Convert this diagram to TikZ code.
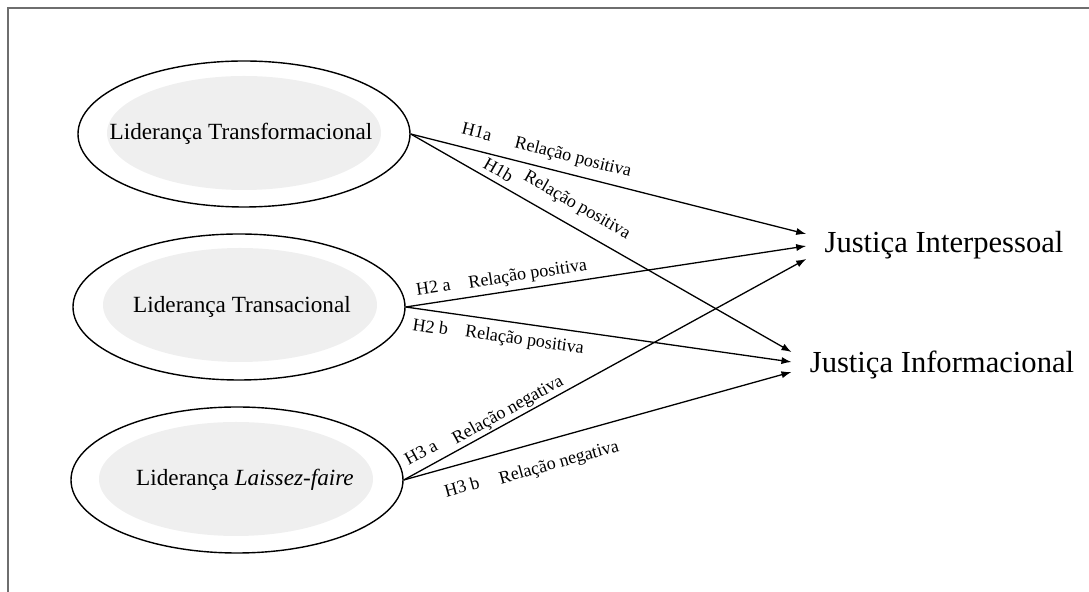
\documentclass[tikz,border=0pt]{standalone}
\usepackage{fontspec}
\setmainfont{Liberation Serif}
\usetikzlibrary{shapes.geometric,arrows.meta}
\definecolor{innergray}{HTML}{EFEFEF}
\definecolor{framegray}{HTML}{6E6E6E}
\begin{document}
\begin{tikzpicture}[x=0.5pt,y=-0.5pt,
  outer/.style={draw, ellipse, line width=0.7pt, minimum width=166pt, minimum height=73pt, inner sep=0pt},
  innerfill/.style={ellipse, fill=innergray, minimum width=137pt, minimum height=57pt, inner sep=0pt},
  ltext/.style={inner sep=0pt, font=\fontsize{11.6pt}{14pt}\selectfont},
  target/.style={inner xsep=9pt, inner ysep=0pt, font=\fontsize{15.3pt}{18pt}\selectfont},
  conn/.style={line width=0.65pt, -{Latex[length=5pt,width=3.6pt]}},
  lab/.style={font=\fontsize{9pt}{11pt}\selectfont, inner sep=0pt, text height=6.5pt, text depth=2pt, sloped}
]
\useasboundingbox (0,0) rectangle (1089,592);
\draw[framegray, line width=1pt] (1089,8) -- (8,8) -- (8,592);

% left ellipses
\node[outer] (t1) at (244,134) {};
\node[innerfill] (t1in) at (244,133) {};
\node[ltext] (t1txt) at (241,134) {Liderança Transformacional};

\node[outer] (t2) at (239,307) {};
\node[innerfill] (t2in) at (240,305) {};
\node[ltext] (t2txt) at (242,307) {Liderança Transacional};

\node[outer] (t3) at (237,480) {};
\node[innerfill] (t3in) at (236,479) {};
\node[ltext] (t3txt) at (245,480) {Liderança \textit{Laissez-faire}};

% targets
\node[target] (ji) at (944,245) {Justiça Interpessoal};
\node[target] (jf) at (942,365) {Justiça Informacional};

% connectors
\draw[conn] (t1.east) -- node[lab, pos=0.156, above=4pt] (l1a) {H1a}
  node[lab, pos=0.40, above=3.7pt] (r1a) {Relação positiva} ([yshift=5.5pt]ji.west);
\draw[conn] (t1.east) -- node[lab, pos=0.214, above=1pt] (l1b) {H1b}
  node[lab, pos=0.41, above=5.7pt] (r1b) {Relação positiva} ([yshift=6.5pt]jf.west);

\draw[conn] (t2.east) -- node[lab, pos=0.075, above=2.7pt] (l2a) {H2 a}
  node[lab, pos=0.31, above=2.2pt] (r2a) {Relação positiva} ([yshift=-0.5pt]ji.west);
\draw[conn] (t2.east) -- node[lab, pos=0.07, below=4.2pt] (l2b) {H2 b}
  node[lab, pos=0.314, below=3.7pt] (r2b) {Relação positiva} ([yshift=1.5pt]jf.west);

\draw[conn] (t3.east) -- node[lab, pos=0.062, above=2.7pt] (l3a) {H3 a}
  node[lab, pos=0.272, above=0.8pt] (r3a) {Relação negativa} ([yshift=-7pt]ji.west);
\draw[conn] (t3.east) -- node[lab, pos=0.135, below=7.2pt] (l3b) {H3 b}
  node[lab, pos=0.383, below=8.2pt] (r3b) {Relação negativa} ([yshift=-3.5pt]jf.west);
\end{tikzpicture}
\end{document}
